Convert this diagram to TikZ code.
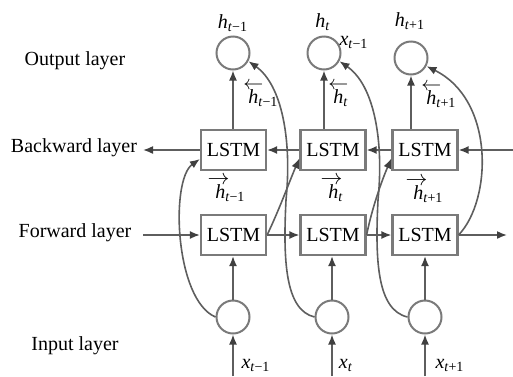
\documentclass[tikz,border=0pt]{standalone}
\usepackage{fontspec}
\setmainfont{Liberation Serif}
\usetikzlibrary{arrows.meta}
\newcommand{\subtm}{\textsubscript{\textit{t}−1}}
\newcommand{\subtp}{\textsubscript{\textit{t}+1}}
\newcommand{\subt}{\textsubscript{\textit{t}}}
\newcommand{\hh}{\textit{h}}
\newcommand{\xx}{\textit{x}}
\newcommand{\hleft}{\leavevmode\llap{\raisebox{7pt}{\fontsize{10pt}{12pt}\selectfont$\leftarrow$}\kern-7.5pt}\textit{h}}
\newcommand{\hright}{\leavevmode\llap{\raisebox{7pt}{\fontsize{10.5pt}{12pt}\selectfont$\rightarrow$}\kern-7pt}\textit{h}}
\definecolor{linecol}{HTML}{5E5E5E}
\definecolor{boxcol}{HTML}{7A7A7A}
\definecolor{tipcol}{HTML}{404040}
\begin{document}
\begin{tikzpicture}[x=0.5pt,y=-0.5pt,
  font=\fontsize{10pt}{12pt}\selectfont,
  lstm/.style={draw=boxcol,line width=1.1pt,minimum width=32.5pt,minimum height=20pt,inner sep=0pt,fill=white},
  circ/.style={circle,draw=boxcol,line width=1pt,minimum size=16.5pt,inner sep=0pt},
  conn/.style={draw=linecol,line width=0.8pt,-{Latex[length=5pt,width=4pt,color=tipcol]}},
  lbl/.style={inner sep=0pt}]
\useasboundingbox (0,0) rectangle (513,376);

% layer labels
\node[lbl] (tout) at (75,61) {Output layer};
\node[lbl] (tback) at (74,148) {Backward layer};
\node[lbl] (tfwd) at (75,233) {Forward layer};
\node[lbl] (tin) at (75,346) {Input layer};

% output circles
\node[circ] (o1) at (233,53) {};
\node[circ] (o2) at (324,53) {};
\node[circ] (o3) at (411,58) {};

% LSTM boxes
\node[lstm] (b1) at (233.5,150) {LSTM};
\node[lstm] (b2) at (333,150) {LSTM};
\node[lstm] (b3) at (425,150) {LSTM};
\node[lstm] (f1) at (233.5,235) {LSTM};
\node[lstm] (f2) at (333,235) {LSTM};
\node[lstm] (f3) at (425,235) {LSTM};

% input circles
\node[circ] (i1) at (233,317) {};
\node[circ] (i2) at (332,317) {};
\node[circ] (i3) at (425,317) {};

% free ends
\coordinate (bl) at (143,150);
\coordinate (br) at (513,150);
\coordinate (fl) at (143,235);
\coordinate (fr) at (507,235);
\coordinate (x1) at (233,376);
\coordinate (x2) at (332,376);
\coordinate (x3) at (425,376);

% backward row
\draw[conn] (b1.west) -- (bl);
\draw[conn] (b2.west) -- (b1.east);
\draw[conn] (b3.west) -- (b2.east);
\draw[conn] (br) -- (b3.east);

% forward row
\draw[conn] (fl) -- (f1.west);
\draw[conn] (f1.east) -- (f2.west);
\draw[conn] (f2.east) -- (f3.west);
\draw[conn] (f3.east) -- (fr);

% backward -> output
\draw[conn] (b1.north -| o1) -- (o1.south);
\draw[conn] (b2.north -| o2) -- (o2.south);
\draw[conn] (b3.north -| o3) -- (o3.south);

% input -> circles -> forward
\draw[conn] (x1) -- (i1.south);
\draw[conn] (x2) -- (i2.south);
\draw[conn] (x3) -- (i3.south);
\draw[conn] (i1.north) -- (f1.south -| i1);
\draw[conn] (i2.north) -- (f2.south -| i2);
\draw[conn] (i3.north) -- (f3.south -| i3);

% curves
\draw[conn] (i1.west) .. controls (175,300) and (170,180) .. (b1.195);
\draw[conn] (f1.east) .. controls (280,208) and (290,180) .. (b2.194);
\draw[conn] (f2.east) .. controls (372,208) and (382,180) .. (b3.194);
\draw[conn] (i2.west) .. controls (285,310) and (283,260) .. (286,200)
  .. controls (292,140) and (282,85) .. (o1.-28);
\draw[conn] (i3.west) .. controls (377,310) and (375,260) .. (378,200)
  .. controls (384,140) and (374,85) .. (o2.-28);
\draw[conn] (f3.east) .. controls (492,200) and (495,100) .. (o3.-28);

% labels
\node[lbl] (lo1) at (233,23) {\hh\subtm};
\node[lbl] (lo2) at (323,22) {\hh\subt};
\node[lbl] (lo3) at (410,21) {\hh\subtp};
\node[lbl] (lx) at (354,42) {\xx\subtm};
\node[lbl,anchor=base west] (lb1) at (248,103) {\hleft\subtm};
\node[lbl,anchor=base west] (lb2) at (333,103) {\hleft\subt};
\node[lbl,anchor=base west] (lb3) at (426,104) {\hleft\subtp};
\node[lbl,anchor=base west] (lf1) at (215,198) {\hright\subtm};
\node[lbl,anchor=base west] (lf2) at (328,198) {\hright\subt};
\node[lbl,anchor=base west] (lf3) at (413,199) {\hright\subtp};
\node[lbl] (li1) at (256,365) {\xx\subtm};
\node[lbl] (li2) at (346,365) {\xx\subt};
\node[lbl] (li3) at (450,365) {\xx\subtp};
\end{tikzpicture}
\end{document}
